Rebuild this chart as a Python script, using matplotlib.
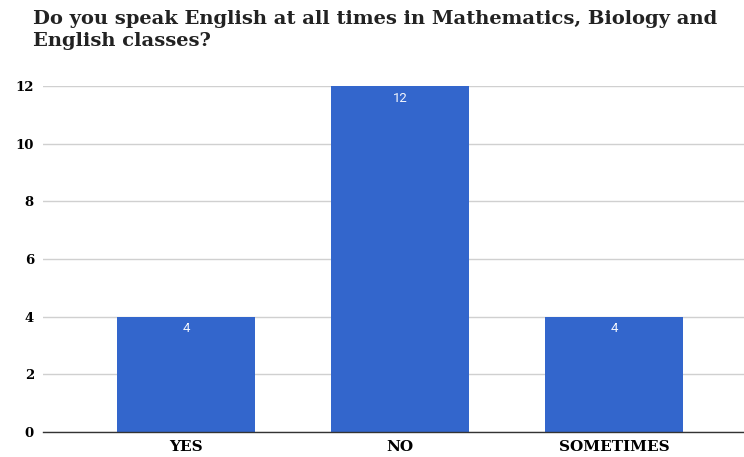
import matplotlib
matplotlib.use("Agg")
import matplotlib.pyplot as plt

categories = ["YES", "NO", "SOMETIMES"]
values = [4, 12, 4]
yticks = [0, 2, 4, 6, 8, 10, 12]
title = "Do you speak English at all times in Mathematics, Biology and\nEnglish classes?"

fig = plt.figure(figsize=(7.44, 4.57), dpi=100)
ax = fig.add_axes([43/744, 1-432/457, 1-43/744, (432-86)/457])

x = list(range(len(categories)))
bars = ax.bar(x, values, width=0.645, color="#3366CC", zorder=3)
for b, v in zip(bars, values):
    ax.annotate(str(v), (b.get_x() + b.get_width()/2, v), xytext=(0, -8.8),
                textcoords="offset points", ha="center", va="center",
                color="#f2f5fc", fontsize=9.5, family="Roboto", zorder=4)

ax.set_xlim(-0.668, 2.607)
ax.set_ylim(0, 12)
ax.set_yticks(yticks)
ax.set_xticks(x)
ax.set_xticklabels(categories, family="DejaVu Serif", fontweight="bold", fontsize=11)
ax.set_yticklabels([str(t) for t in yticks], family="DejaVu Serif", fontweight="bold", fontsize=9.5)
ax.tick_params(axis="both", length=0)
ax.tick_params(axis="x", pad=6)
ax.tick_params(axis="y", pad=6.5)
ax.grid(axis="y", color="#d0d0d0", linewidth=1, zorder=0)
ax.set_axisbelow(True)
for s in ["top", "right", "left"]:
    ax.spines[s].set_visible(False)
ax.spines["bottom"].set_color("#333333")
ax.spines["bottom"].set_linewidth(1)
ax.spines["bottom"].set_zorder(5)

fig.text(33/744, 1-10/457, title, ha="left", va="top", fontsize=14.0,
         family="DejaVu Serif", fontweight="semibold", color="#222222", linespacing=1.32)

fig.savefig("out.png", dpi=100)
